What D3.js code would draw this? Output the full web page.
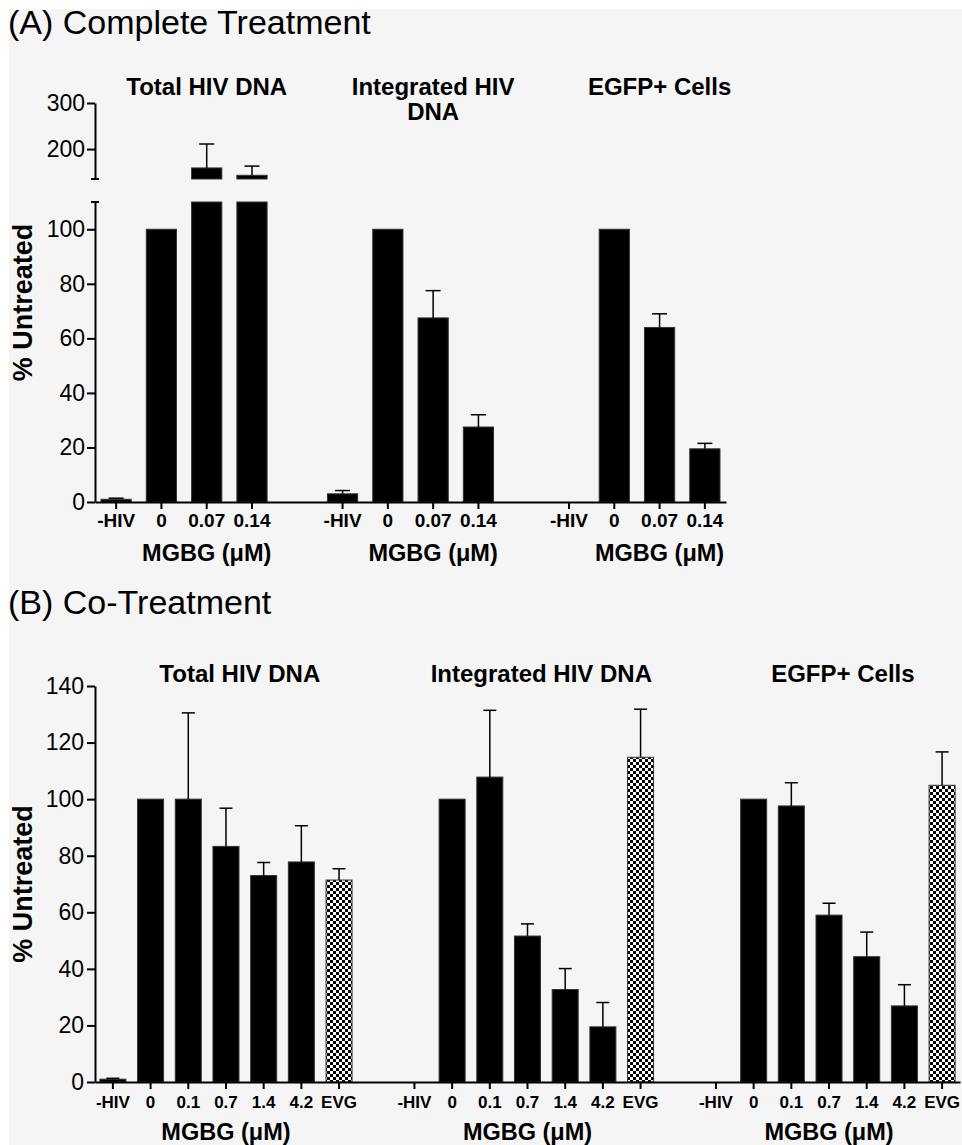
<!DOCTYPE html>
<html>
<head>
<meta charset="utf-8">
<script src="https://cdn.jsdelivr.net/npm/d3@7"></script>
<style>
  body { margin: 0; background: #ffffff; }
  svg text { font-family: "Liberation Sans", Arial, sans-serif; fill: #000; }
</style>
</head>
<body>
<svg width="962" height="1145"></svg>
<script>
const width = 962;
const height = 1145;

//--------------------data--------------------
const doseA = ["-HIV", "0", "0.07", "0.14"];
const doseB = ["-HIV", "0", "0.1", "0.7", "1.4", "4.2", "EVG"];
const titlesA = [["Total HIV DNA"], ["Integrated HIV", "DNA"], ["EGFP+ Cells"]];
const titlesB = ["Total HIV DNA", "Integrated HIV DNA", "EGFP+ Cells"];

// (A) Complete Treatment, % untreated, mean and error (upper SEM)
const totalA = [1, 100, 159, 143];
const totalAErr = [0.4, 0, 52, 20];
const integratedA = [3, 100, 67.5, 27.5];
const integratedAErr = [1.2, 0, 10, 4.5];
const egfpA = [0, 100, 64, 19.5];
const egfpAErr = [0, 0, 5, 2];

// (B) Co-Treatment
const totalB = [1, 100, 100, 83.3, 73, 77.8, 71.4];
const totalBErr = [0.3, 0, 30.5, 13.5, 4.6, 12.8, 4];
const integratedB = [0, 100, 107.8, 51.6, 32.7, 19.5, 114.8];
const integratedBErr = [0, 0, 23.6, 4.3, 7.4, 8.6, 17];
const egfpB = [0, 100, 97.6, 59, 44.3, 26.9, 104.9];
const egfpBErr = [0, 0, 8.2, 4.2, 8.7, 7.5, 11.8];

const ticksALow = [0, 20, 40, 60, 80, 100];
const ticksAHigh = [200, 300];
const ticksB = [0, 20, 40, 60, 80, 100, 120, 140];

const svg = d3.select("svg");

//background
svg.append("rect")
    .attr("x", 9).attr("y", 9)
    .attr("width", width).attr("height", height)
    .attr("fill", "#f5f5f5");

//checker pattern for EVG bars
const pat = svg.append("defs").append("pattern")
    .attr("id", "checker")
    .attr("width", 6).attr("height", 6)
    .attr("patternUnits", "userSpaceOnUse");
pat.append("rect").attr("width", 6).attr("height", 6).attr("fill", "#fff");
pat.append("rect").attr("width", 3).attr("height", 3).attr("fill", "#000");
pat.append("rect").attr("x", 3).attr("y", 3).attr("width", 3).attr("height", 3).attr("fill", "#000");

//build slot list: groups separated by one empty slot
function makeSlots(doses, nGroups) {
    var slots = [];
    for (var g = 0; g < nGroups; g++) {
        doses.forEach(d => slots.push(g + "|" + d));
        if (g < nGroups - 1) slots.push("gap" + g);
    }
    return slots;
}

function styleAxis(g, size, weight) {
    g.select(".domain").attr("stroke", "#000").attr("stroke-width", 2);
    g.selectAll(".tick line").attr("stroke", "#000").attr("stroke-width", 2);
    g.selectAll(".tick text")
        .style("font-size", size + "px")
        .style("font-weight", weight)
        .attr("fill", "#000");
}

function errorBar(x, yTop, yBase, cap) {
    svg.append("line")
        .attr("x1", x).attr("x2", x)
        .attr("y1", yBase).attr("y2", yTop)
        .attr("stroke", "#000").attr("stroke-width", 1.5);
    svg.append("line")
        .attr("x1", x - cap / 2).attr("x2", x + cap / 2)
        .attr("y1", yTop).attr("y2", yTop)
        .attr("stroke", "#000").attr("stroke-width", 1.5);
}

function drawBar(x, w, y0, y1, fill) {
    svg.append("rect")
        .attr("x", x)
        .attr("y", Math.min(y0, y1))
        .attr("width", w)
        .attr("height", Math.abs(y0 - y1))
        .attr("fill", fill)
        .attr("stroke", "#333")
        .attr("stroke-width", 1);
}

function yLabel(x, y) {
    svg.append("text")
        .attr("transform", "translate(" + x + "," + y + ") rotate(-90)")
        .attr("text-anchor", "middle")
        .style("font-size", "27px")
        .style("font-weight", "bold")
        .text("% Untreated");
}

//--------------------(A) Complete Treatment--------------------
function drawPanelA() {
    const means = [totalA, integratedA, egfpA];
    const errs = [totalAErr, integratedAErr, egfpAErr];
    const slots = makeSlots(doseA, 3);

    const x = d3.scaleBand()
        .domain(slots)
        .range([95, 726])
        .paddingInner(0.333)
        .paddingOuter(0.133);

    const breakLow = 110, breakHigh = 135;
    const yLow = d3.scaleLinear().domain([0, breakLow]).range([502, 202]);
    const yHigh = d3.scaleLinear().domain([breakHigh, 300]).range([179, 103]);

    svg.append("text")
        .attr("x", 8).attr("y", 34)
        .style("font-size", "34px")
        .text("(A) Complete Treatment");

    //bars
    means.forEach((vals, g) => {
        vals.forEach((v, i) => {
            const key = g + "|" + doseA[i];
            const bx = x(key), bw = x.bandwidth(), cx = bx + bw / 2;
            if (v <= 0) return;
            if (v <= breakLow) {
                drawBar(bx, bw, yLow(0), yLow(v), "#000");
            } else {
                drawBar(bx, bw, yLow(0), yLow(breakLow), "#000");
                drawBar(bx, bw, yHigh(breakHigh), yHigh(v), "#000");
            }
            const e = errs[g][i];
            if (e > 0) {
                const top = v + e;
                const yt = top > breakLow ? yHigh(top) : yLow(top);
                const yb = v > breakLow ? yHigh(v) : yLow(v);
                errorBar(cx, yt, yb, 15);
            }
        });
    });

    //axes
    const gx = svg.append("g")
        .attr("transform", "translate(0," + yLow(0) + ")")
        .call(d3.axisBottom(x)
            .tickValues(slots.filter(s => s.indexOf("|") > 0))
            .tickFormat(s => s.split("|")[1])
            .tickSize(7).tickPadding(5).tickSizeOuter(0));
    styleAxis(gx, 19, "bold");

    const gyl = svg.append("g")
        .attr("transform", "translate(95,0)")
        .call(d3.axisLeft(yLow).tickValues(ticksALow).tickSize(8).tickPadding(2).tickSizeOuter(0));
    styleAxis(gyl, 23, "normal");

    const gyh = svg.append("g")
        .attr("transform", "translate(95,0)")
        .call(d3.axisLeft(yHigh).tickValues(ticksAHigh).tickSize(8).tickPadding(2).tickSizeOuter(0));
    styleAxis(gyh, 23, "normal");

    //break caps
    [yLow(breakLow), yHigh(breakHigh)].forEach(yy => {
        svg.append("line")
            .attr("x1", 91).attr("x2", 99)
            .attr("y1", yy).attr("y2", yy)
            .attr("stroke", "#000").attr("stroke-width", 2);
    });

    //titles and x labels
    titlesA.forEach((lines, g) => {
        const cx = x(g + "|" + doseA[2]) + x.bandwidth() / 2;
        lines.forEach((t, k) => {
            svg.append("text")
                .attr("x", cx).attr("y", 95 + k * 25)
                .attr("text-anchor", "middle")
                .style("font-size", "24px")
                .style("font-weight", "bold")
                .text(t);
        });
        svg.append("text")
            .attr("x", cx).attr("y", yLow(0) + 59)
            .attr("text-anchor", "middle")
            .style("font-size", "23.5px")
            .style("font-weight", "bold")
            .text("MGBG (\u03BCM)");
    });

    yLabel(32, (yLow(0) + yHigh(300)) / 2);
}

//--------------------(B) Co-Treatment--------------------
function drawPanelB() {
    const means = [totalB, integratedB, egfpB];
    const errs = [totalBErr, integratedBErr, egfpBErr];
    const slots = makeSlots(doseB, 3);

    const x = d3.scaleBand()
        .domain(slots)
        .range([95, 960])
        .paddingInner(0.31)
        .paddingOuter(0.13);

    const y = d3.scaleLinear().domain([0, 140]).range([1082, 686]);

    svg.append("text")
        .attr("x", 8).attr("y", 614)
        .style("font-size", "34px")
        .text("(B) Co-Treatment");

    means.forEach((vals, g) => {
        vals.forEach((v, i) => {
            const key = g + "|" + doseB[i];
            const bx = x(key), bw = x.bandwidth(), cx = bx + bw / 2;
            if (v > 0)
                drawBar(bx, bw, y(0), y(v), doseB[i] == "EVG" ? "url(#checker)" : "#000");
            const e = errs[g][i];
            if (e > 0)
                errorBar(cx, y(v + e), y(v), 13);
        });
    });

    const gx = svg.append("g")
        .attr("transform", "translate(0," + y(0) + ")")
        .call(d3.axisBottom(x)
            .tickValues(slots.filter(s => s.indexOf("|") > 0))
            .tickFormat(s => s.split("|")[1])
            .tickSize(7).tickPadding(7).tickSizeOuter(0));
    styleAxis(gx, 17, "bold");

    const gy = svg.append("g")
        .attr("transform", "translate(95,0)")
        .call(d3.axisLeft(y).tickValues(ticksB).tickSize(8).tickPadding(3).tickSizeOuter(0));
    styleAxis(gy, 23, "normal");

    titlesB.forEach((t, g) => {
        const first = x(g + "|" + doseB[1]);
        const last = x(g + "|" + doseB[6]) + x.bandwidth();
        svg.append("text")
            .attr("x", (first + last) / 2 - 5).attr("y", 682)
            .attr("text-anchor", "middle")
            .style("font-size", "24px")
            .style("font-weight", "bold")
            .text(t);
        const gFirst = x(g + "|" + doseB[0]);
        svg.append("text")
            .attr("x", (gFirst + last) / 2).attr("y", y(0) + 58)
            .attr("text-anchor", "middle")
            .style("font-size", "23.5px")
            .style("font-weight", "bold")
            .text("MGBG (\u03BCM)");
    });

    yLabel(32, (y(0) + y(140)) / 2);
}

drawPanelA();
drawPanelB();
</script>
</body>
</html>
